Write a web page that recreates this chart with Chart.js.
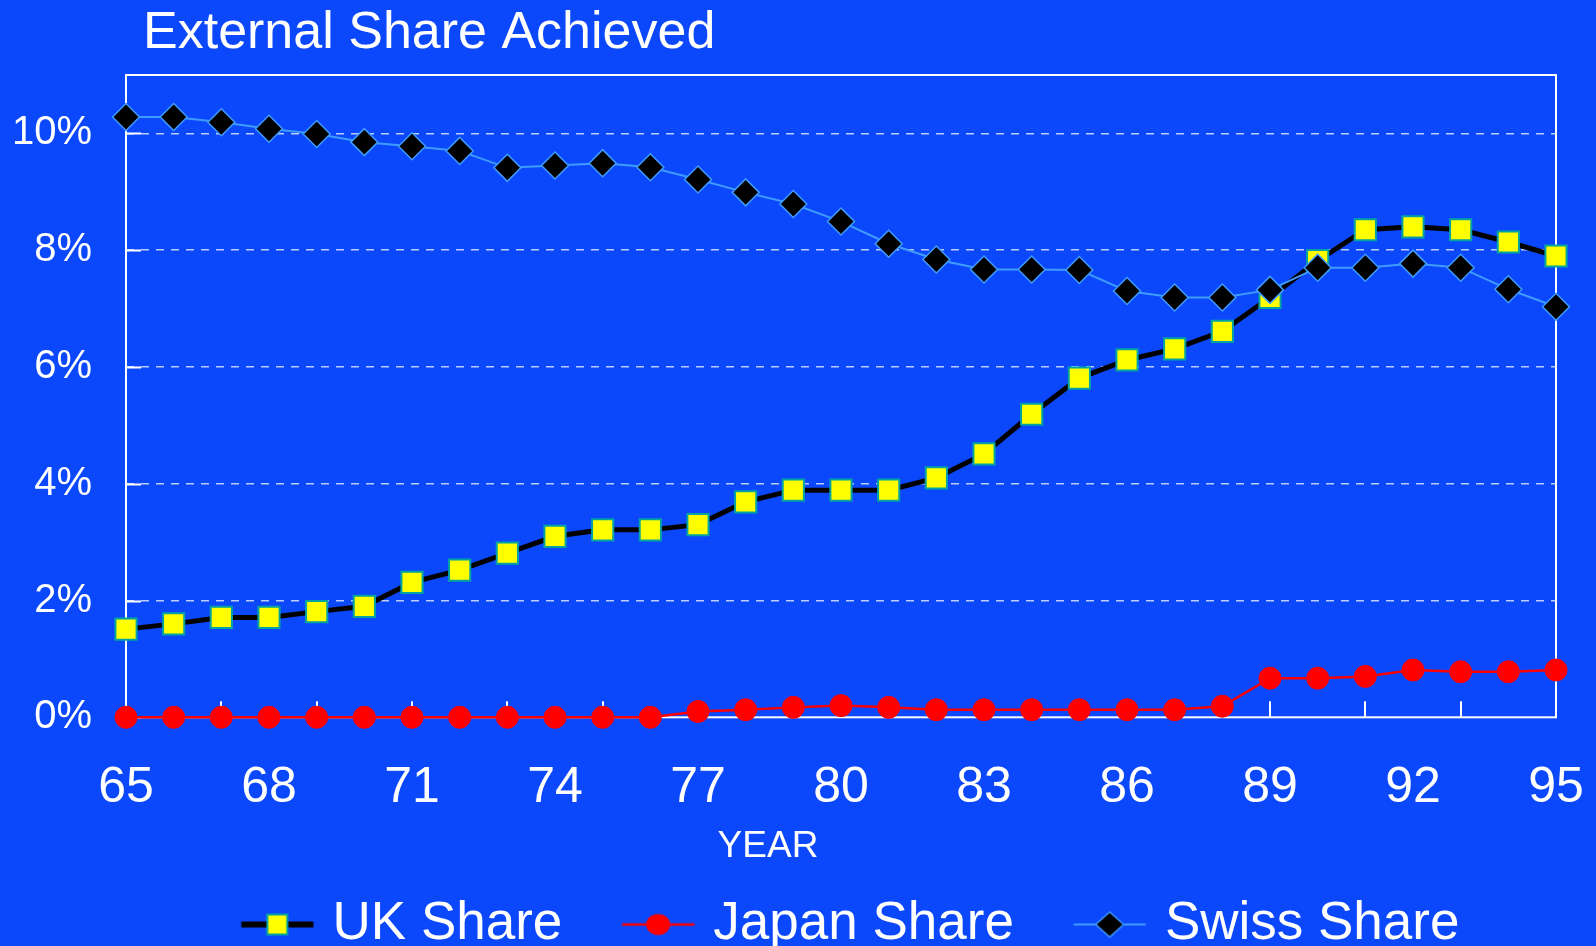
<!DOCTYPE html>
<html>
<head>
<meta charset="utf-8">
<script src="https://cdn.jsdelivr.net/npm/chart.js@4.4.1/dist/chart.umd.min.js"></script>
<style>
  html, body { margin: 0; padding: 0; background: #0c48fb; }
  #wrap { position: relative; width: 1596px; height: 946px; }
</style>
</head>
<body>
<div id="wrap"><canvas id="c"></canvas></div>
<script>
// ---- Data ----
const years = [65,66,67,68,69,70,71,72,73,74,75,76,77,78,79,80,81,82,83,84,85,86,87,88,89,90,91,92,93,94,95];
const ukShare = [1.51,1.6,1.71,1.71,1.81,1.9,2.31,2.52,2.81,3.1,3.21,3.21,3.3,3.69,3.89,3.89,3.89,4.1,4.51,5.19,5.81,6.12,6.31,6.61,7.19,7.82,8.35,8.4,8.35,8.14,7.9];
const japanShare = [0,0,0,0,0,0,0,0,0,0,0,0,0.1,0.13,0.17,0.2,0.17,0.13,0.13,0.13,0.13,0.13,0.13,0.19,0.67,0.67,0.7,0.81,0.78,0.78,0.81];
const swissShare = [10.28,10.28,10.19,10.08,9.99,9.85,9.78,9.7,9.41,9.45,9.49,9.42,9.21,8.99,8.79,8.49,8.11,7.84,7.67,7.67,7.66,7.3,7.19,7.19,7.32,7.7,7.7,7.77,7.7,7.33,7.03];
const seriesNames = ['UK Share', 'Japan Share', 'Swiss Share'];
const yTickValues = [0, 2, 4, 6, 8, 10];
const xTickMarks = [65,67,69,71,73,75,77,79,81,83,85,87,89,91,93,95];

const FONT = '"Liberation Sans", Arial, Helvetica, sans-serif';
const SWISS_BLUE = '#3f9cff';
const UK_EDGE = '#00a2a2';

// legend icons: line sample with marker (drawn toward the right of a wide icon)
function makeIcon(kind) {
  const W = 114.5, H = 32, len = 72, off = W - len;
  const cv = document.createElement('canvas');
  cv.width = Math.round(W); cv.height = H;
  const g = cv.getContext('2d');
  const cx = off + len / 2, cy = H / 2;
  g.lineCap = 'butt';
  if (kind === 0) {
    g.strokeStyle = '#000'; g.lineWidth = 6;
    g.beginPath(); g.moveTo(off, cy); g.lineTo(off + len, cy); g.stroke();
    g.fillStyle = '#ffff00'; g.strokeStyle = UK_EDGE; g.lineWidth = 2;
    g.fillRect(cx - 10, cy - 10, 20, 20); g.strokeRect(cx - 10, cy - 10, 20, 20);
  } else if (kind === 1) {
    g.strokeStyle = '#ff0000'; g.lineWidth = 2.5;
    g.beginPath(); g.moveTo(off, cy); g.lineTo(off + len, cy); g.stroke();
    g.fillStyle = '#ff0000';
    g.beginPath(); g.ellipse(cx, cy, 12, 10.5, 0, 0, Math.PI * 2); g.fill();
  } else {
    g.strokeStyle = SWISS_BLUE; g.lineWidth = 2;
    g.beginPath(); g.moveTo(off, cy); g.lineTo(off + len, cy); g.stroke();
    g.fillStyle = '#000'; g.strokeStyle = SWISS_BLUE; g.lineWidth = 1.5;
    g.beginPath(); g.moveTo(cx, cy - 12.5); g.lineTo(cx + 14, cy); g.lineTo(cx, cy + 12.5); g.lineTo(cx - 14, cy); g.closePath();
    g.fill(); g.stroke();
  }
  return cv;
}
const legendIcons = [makeIcon(0), makeIcon(1), makeIcon(2)];

const toXY = arr => years.map((yr, i) => ({ x: yr, y: arr[i] }));

const framePlugin = {
  id: 'frame',
  afterLayout(chart) {
    const ca = chart.chartArea;
    if (chart.titleBlock) {
      chart.titleBlock.left = ca.left + 17;
    }
    const sub = (chart.boxes || []).find(b => b && b.options && b.options.text === 'YEAR' && b !== chart.titleBlock);
    if (sub) {
      const shift = -73;
      sub.left = ca.left + shift;
      sub.right = ca.right + shift;
    }
    if (chart.legend) {
      chart.legend.left -= 8;
      chart.legend.right -= 8;
    }
  },
  beforeDatasetsDraw(chart) {
    const { ctx, chartArea: ca, scales: { x, y } } = chart;
    ctx.save();
    ctx.strokeStyle = '#ffffff';
    ctx.lineWidth = 2;
    ctx.setLineDash([]);
    ctx.strokeRect(ca.left, ca.top, ca.right - ca.left, ca.bottom - ca.top);
    ctx.beginPath();
    xTickMarks.forEach(v => {
      const px = Math.round(x.getPixelForValue(v));
      ctx.moveTo(px, ca.bottom);
      ctx.lineTo(px, ca.bottom - 16);
    });
    yTickValues.forEach(v => {
      const py = Math.round(y.getPixelForValue(v)) + 0.5;
      ctx.moveTo(ca.left, py);
      ctx.lineTo(ca.left + 15, py);
    });
    ctx.stroke();
    ctx.restore();
  }
};

new Chart(document.getElementById('c'), {
  type: 'line',
  data: {
    datasets: [
      {
        label: seriesNames[0],
        data: toXY(ukShare),
        borderColor: '#000000',
        borderWidth: 5,
        pointStyle: 'rect',
        pointRadius: 15,
        pointBackgroundColor: '#ffff00',
        pointBorderColor: UK_EDGE,
        pointBorderWidth: 2,
        clip: false,
        order: 1
      },
      {
        label: seriesNames[1],
        data: toXY(japanShare),
        borderColor: '#ff0000',
        borderWidth: 2.5,
        pointStyle: 'circle',
        pointRadius: 11,
        pointBackgroundColor: '#ff0000',
        pointBorderColor: '#ff0000',
        pointBorderWidth: 1,
        clip: false,
        order: 2
      },
      {
        label: seriesNames[2],
        data: toXY(swissShare),
        borderColor: SWISS_BLUE,
        borderWidth: 2,
        pointStyle: 'rectRot',
        pointRadius: 13.5,
        pointBackgroundColor: '#000000',
        pointBorderColor: SWISS_BLUE,
        pointBorderWidth: 1.5,
        clip: false,
        order: 0
      }
    ]
  },
  options: {
    responsive: true,
    maintainAspectRatio: false,
    animation: false,
    devicePixelRatio: 1,
    layout: { padding: { left: 0, right: 40, top: 0, bottom: -15 } },
    elements: { line: { tension: 0, fill: false } },
    scales: {
      x: {
        type: 'linear',
        min: 65,
        max: 95,
        grid: { display: false, drawTicks: false },
        border: { display: false },
        ticks: {
          stepSize: 3,
          autoSkip: false,
          maxRotation: 0,
          padding: 41,
          color: '#ffffff',
          font: { family: FONT, size: 50 },
          callback: v => String(v)
        },
        afterFit: s => { s.height = 97; s.paddingLeft = 0; s.paddingRight = 0; }
      },
      y: {
        type: 'linear',
        min: 0,
        max: 11,
        grid: {
          drawTicks: false,
          lineWidth: 1.5,
          color: ctx => (ctx.tick && ctx.tick.value === 0) ? 'rgba(0,0,0,0)' : 'rgba(255,255,255,0.72)'
        },
        border: { display: false, dash: [8, 7] },
        afterBuildTicks: s => { s.ticks = yTickValues.map(v => ({ value: v })); },
        ticks: {
          padding: 34,
          color: '#ffffff',
          font: { family: FONT, size: 40 },
          callback: v => v + '%'
        },
        afterFit: s => { s.width = 126; }
      }
    },
    plugins: {
      tooltip: { enabled: false },
      title: {
        display: true,
        text: 'External Share Achieved',
        align: 'start',
        color: '#ffffff',
        font: { family: FONT, size: 52, weight: 'normal', lineHeight: 1.0 },
        padding: { top: 8, bottom: 15 }
      },
      subtitle: {
        display: true,
        text: 'YEAR',
        position: 'bottom',
        fullSize: false,
        align: 'center',
        color: '#ffffff',
        font: { family: FONT, size: 37, weight: 'normal', lineHeight: 1.1 },
        padding: { top: 12, bottom: 6 }
      },
      legend: {
        display: true,
        position: 'bottom',
        fullSize: false,
        weight: 3000,
        labels: {
          color: '#ffffff',
          font: { family: FONT, size: 53 },
          usePointStyle: true,
          pointStyleWidth: 99.5,
          padding: 25,
          sort: (a, b) => a.datasetIndex - b.datasetIndex,
          generateLabels(chart) {
            const items = Chart.defaults.plugins.legend.labels.generateLabels(chart);
            items.forEach(it => { it.pointStyle = legendIcons[it.datasetIndex]; });
            return items;
          }
        }
      }
    }
  },
  plugins: [framePlugin]
});
</script>
</body>
</html>
